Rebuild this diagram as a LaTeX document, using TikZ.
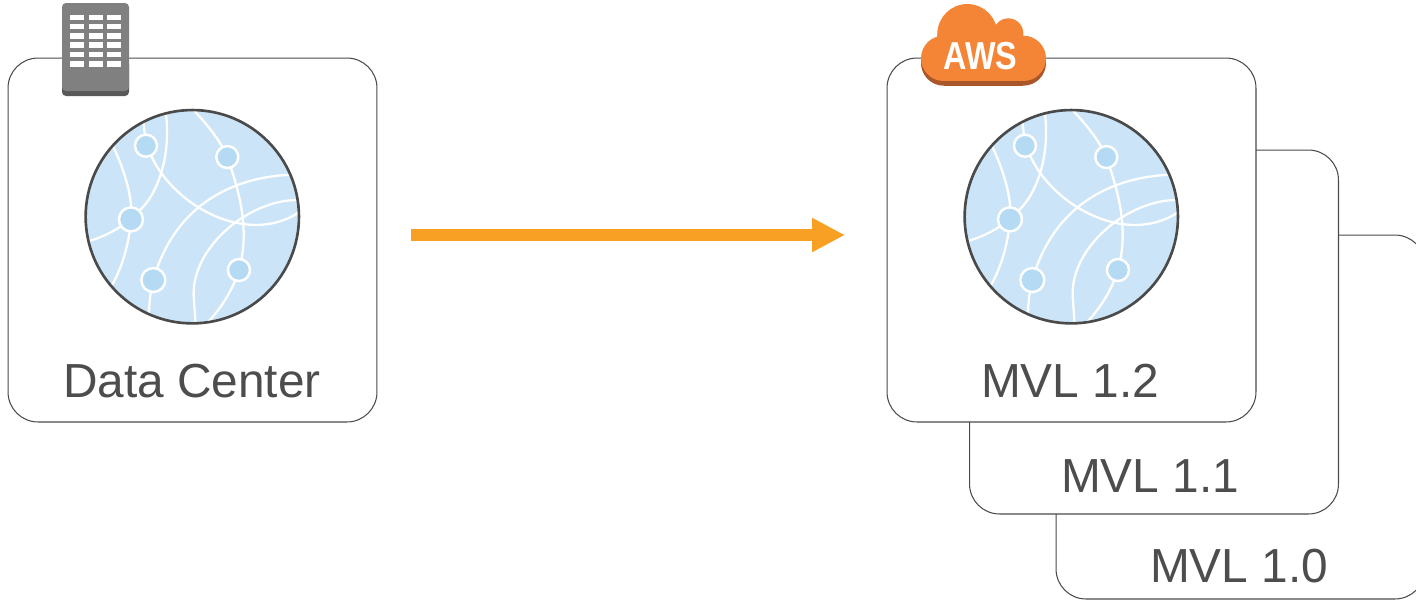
\documentclass[tikz,border=0pt]{standalone}
\usepackage{fontspec}
\setmainfont{Liberation Sans}
\usepackage{xcolor}
\usetikzlibrary{arrows.meta}

\definecolor{linegray}{HTML}{4A4A4A}
\definecolor{textgray}{HTML}{4D4D4D}
\definecolor{globefill}{HTML}{CBE4F7}
\definecolor{hubfill}{HTML}{B5DAF4}
\definecolor{arrowgold}{HTML}{F7A023}
\definecolor{cloudorange}{HTML}{F58536}
\definecolor{clouddark}{HTML}{A8562A}
\definecolor{servergray}{HTML}{808080}
\definecolor{serverdark}{HTML}{595959}

\begin{document}
\begin{tikzpicture}[
    x=0.02cm,
    y=-0.02cm,
    box/.style={rectangle, draw=linegray, line width=0.6pt, fill=white, rounded corners=0.6cm, minimum width=7.38cm, minimum height=7.28cm},
    label/.style={text=textgray, font=\fontsize{27.2}{30}\selectfont, inner sep=0pt},
    hub/.style={circle, draw=white, line width=1.4pt, fill=hubfill, inner sep=0pt},
    wire/.style={draw=white, line width=1.3pt},
    arrow/.style={line width=0.24cm, draw=arrowgold, -{Triangle[length=0.66cm, width=0.64cm, fill=arrowgold]}},
    globe/.pic={
        \begin{scope}[x=0.00667cm, y=-0.00667cm, shift={(-352,-350)}]
            \fill[globefill] (352,350) circle (320);
            \begin{scope}
                \clip (352,350) circle (320);
                \draw[wire] (205,60) -- (213,137) -- (230,170) .. controls (300,320) and (520,440) .. (675,335);
                \draw[wire] (272,35) .. controls (290,160) and (250,280) .. (195,330) .. controls (150,380) and (90,410) .. (35,425);
                \draw[wire] (110,130) .. controls (150,210) and (175,300) .. (168,358) .. controls (163,430) and (140,510) .. (105,565);
                \draw[wire] (350,25) .. controls (395,70) and (435,120) .. (457,171) .. controls (495,280) and (525,390) .. (492,510) .. controls (470,580) and (430,635) .. (395,670);
                \draw[wire] (650,224) .. controls (480,230) and (300,310) .. (235,540) .. controls (225,580) and (222,620) .. (222,645);
                \draw[wire] (675,300) .. controls (520,295) and (340,450) .. (357,600) -- (362,675);
            \end{scope}
            \node[hub, minimum size=0.44cm] (hubA) at (213,137) {};
            \node[hub, minimum size=0.44cm] (hubB) at (457,171) {};
            \node[hub, minimum size=0.48cm] (hubC) at (168,358) {};
            \node[hub, minimum size=0.48cm] (hubD) at (235,540) {};
            \node[hub, minimum size=0.44cm] (hubE) at (492,510) {};
            \draw[linegray, line width=1.5pt] (352,350) circle (320);
        \end{scope}
    }
]
    \clip (0,0) rectangle (1416,600);

    % stacked versions, back to front
    \node[box] (V) at (1240.5,417) {};
    \node[box] (U) at (1154,332) {};
    \node[box] (T) at (1071.5,240) {};
    \node[box] (DC) at (192.5,240) {};

    \pic (DCglobe) at (192.3,216.7) {globe};
    \pic (Tglobe) at (1071.3,216.7) {globe};

    \node[label] (DCtext) at (192,381) {Data Center};
    \node[label] (Ttext) at (1070,381) {MVL 1.2};
    \node[label] (Utext) at (1150,476) {MVL 1.1};
    \node[label] (Vtext) at (1239,566) {MVL 1.0};

    % server icon
    \fill[serverdark, rounded corners=0.08cm] (62,60) rectangle (129,96);
    \fill[servergray, rounded corners=0.08cm] (62,3) rectangle (129,91);
    \foreach \col in {69.5,88.5,107}
        \foreach \row in {14.5,23.8,33.1,42.4,51.7,61}
            \fill[white] (\col,\row) rectangle ++(14,5.5);

    % cloud icon
    \begin{scope}[shift={(910,0)}, x=0.00667cm, y=-0.00667cm]
        \foreach \offs/\shade in {14/clouddark,0/cloudorange} {
            \begin{scope}[shift={(0,\offs)}]
                \fill[\shade] (101,175) circle (68);
                \fill[\shade] (172,102) circle (90);
                \fill[\shade] (295,100) circle (45);
                \fill[\shade] (340,175) circle (68);
                \fill[\shade] (101,130) rectangle (340,243);
            \end{scope}
        }
        \node[text=white, inner sep=0pt, font=\fontsize{22.2}{24}\selectfont\bfseries] (AWS) at (211,167) {\scalebox{0.83}[1]{AWS}};
    \end{scope}

    \coordinate (from) at (411,235);
    \coordinate (to) at (845,235);
    \draw[arrow] (from) -- (to);

\end{tikzpicture}
\end{document}
